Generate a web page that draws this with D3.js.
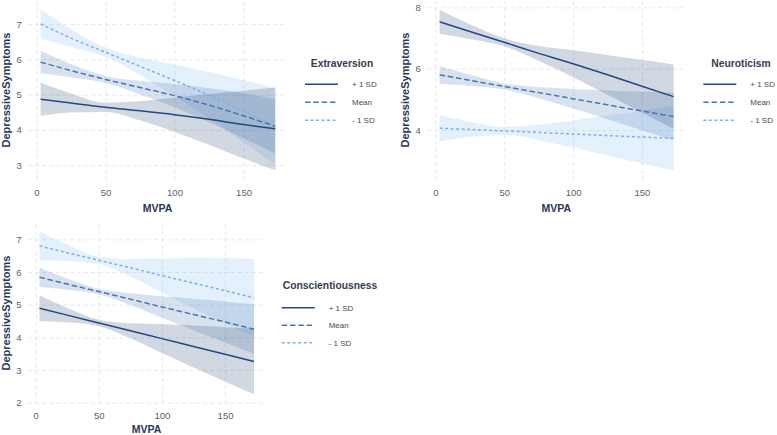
<!DOCTYPE html>
<html><head><meta charset="utf-8">
<script src="https://cdn.jsdelivr.net/npm/d3@7"></script>
<style>body{margin:0;background:#fff} svg{display:block} text{font-family:"Liberation Sans",Arial,sans-serif}</style>
</head><body><svg id="c" width="777" height="435"></svg>
<script>
// ---------- data ----------
const mvpa = [3, 25, 50, 75, 100, 125, 150, 173];
const levels = ["+ 1 SD", "Mean", "- 1 SD"];
const xTicks = [0, 50, 100, 150];
const moderators = ["Extraversion", "Neuroticism", "Conscientiousness"];
const yTicksExt = [3, 4, 5, 6, 7];
const yTicksNeu = [4, 6, 8];
const yTicksCon = [2, 3, 4, 5, 6, 7];
const yDomainExt = [2.58, 7.68];
const yDomainNeu = [2.37, 8.24];
const yDomainCon = [1.99, 7.5];
const xDomain = [-6, 181.5];

// Extraversion
const extPlusFit  = [4.87, 4.76, 4.64, 4.54, 4.43, 4.30, 4.15, 4.03];
const extPlusLo   = [4.40, 4.49, 4.51, 4.27, 3.94, 3.58, 3.19, 2.86];
const extPlusHi   = [5.34, 5.03, 4.77, 4.81, 4.92, 5.02, 5.11, 5.20];
const extMeanFit  = [5.92, 5.68, 5.43, 5.20, 4.97, 4.70, 4.40, 4.10];
const extMeanLo   = [5.60, 5.49, 5.33, 5.01, 4.64, 4.22, 3.76, 3.33];
const extMeanHi   = [6.24, 5.87, 5.53, 5.39, 5.30, 5.18, 5.04, 4.87];
const extMinusFit = [7.00, 6.60, 6.20, 5.80, 5.40, 4.98, 4.53, 4.10];
const extMinusLo  = [6.58, 6.35, 6.07, 5.55, 4.95, 4.32, 3.65, 3.02];
const extMinusHi  = [7.42, 6.85, 6.33, 6.05, 5.85, 5.64, 5.41, 5.18];
// Neuroticism
const neuPlusFit  = [7.53, 7.21, 6.86, 6.50, 6.16, 5.80, 5.43, 5.09];
const neuPlusLo   = [7.14, 6.97, 6.73, 6.26, 5.72, 5.15, 4.57, 4.04];
const neuPlusHi   = [7.92, 7.45, 6.99, 6.74, 6.60, 6.45, 6.29, 6.14];
const neuMeanFit  = [5.80, 5.62, 5.42, 5.22, 5.02, 4.82, 4.62, 4.44];
const neuMeanLo   = [5.51, 5.44, 5.32, 5.04, 4.70, 4.35, 3.99, 3.66];
const neuMeanHi   = [6.09, 5.80, 5.52, 5.40, 5.34, 5.29, 5.25, 5.22];
const neuMinusFit = [4.06, 4.02, 3.97, 3.92, 3.87, 3.82, 3.77, 3.73];
const neuMinusLo  = [3.63, 3.77, 3.84, 3.67, 3.43, 3.17, 2.91, 2.68];
const neuMinusHi  = [4.49, 4.27, 4.10, 4.17, 4.31, 4.47, 4.63, 4.78];
// Conscientiousness
const conPlusFit  = [4.89, 4.68, 4.44, 4.20, 3.96, 3.72, 3.48, 3.26];
const conPlusLo   = [4.49, 4.46, 4.34, 3.97, 3.52, 3.08, 2.65, 2.26];
const conPlusHi   = [5.29, 4.90, 4.54, 4.43, 4.40, 4.36, 4.31, 4.26];
const conMeanFit  = [5.84, 5.63, 5.40, 5.17, 4.93, 4.70, 4.47, 4.25];
const conMeanLo   = [5.54, 5.46, 5.32, 4.99, 4.60, 4.22, 3.84, 3.49];
const conMeanHi   = [6.14, 5.80, 5.48, 5.35, 5.26, 5.18, 5.10, 5.01];
const conMinusFit = [6.80, 6.59, 6.36, 6.13, 5.89, 5.66, 5.43, 5.21];
const conMinusLo  = [6.36, 6.34, 6.25, 5.86, 5.37, 4.88, 4.43, 4.02];
const conMinusHi  = [7.24, 6.84, 6.47, 6.40, 6.41, 6.44, 6.43, 6.40];

// ---------- style ----------
const lineColors = ["#1f4a84", "#4676b6", "#7fb1e3"];
const bandColors = ["#2a4670", "#3d6fb0", "#8fc2f2"];
const bandOpacity = [0.21, 0.2, 0.24];
const dashes = [null, "5.5,2.8", "3,2.5"];

const panels = [
  {mod: moderators[0], yTicks: yTicksExt, yDomain: yDomainExt,
   fit: [extPlusFit, extMeanFit, extMinusFit], lo: [extPlusLo, extMeanLo, extMinusLo], hi: [extPlusHi, extMeanHi, extMinusHi],
   xr: [28.2, 287], yr: [180, 0], ytx: 9.5, titleDy: 31.8, legKx: 305, legTitleCx: 342, legTitleY: 66.5, legY: [84.3, 102.3, 120.3]},
  {mod: moderators[1], yTicks: yTicksNeu, yDomain: yDomainNeu,
   fit: [neuPlusFit, neuMeanFit, neuMinusFit], lo: [neuPlusLo, neuMeanLo, neuMinusLo], hi: [neuPlusHi, neuMeanHi, neuMinusHi],
   xr: [427.2, 685.3], yr: [180, 0], ytx: 409, titleDy: 31.8, legKx: 703.3, legTitleCx: 741, legTitleY: 66.5, legY: [84.3, 102.3, 120.3]},
  {mod: moderators[2], yTicks: yTicksCon, yDomain: yDomainCon,
   fit: [conPlusFit, conMeanFit, conMinusFit], lo: [conPlusLo, conMeanLo, conMinusLo], hi: [conPlusHi, conMeanHi, conMinusHi],
   xr: [28.1, 264.8], yr: [403, 223], ytx: 9.5, titleDy: 29.5, legKx: 281.7, legTitleCx: 330, legTitleY: 288.8, legY: [307.7, 325.2, 342.7]}
];

const svg = d3.select("#c");

panels.forEach(p => {
  const x = d3.scaleLinear().domain(xDomain).range(p.xr);
  const y = d3.scaleLinear().domain(p.yDomain).range(p.yr);
  const g = svg.append("g");
  const w = p.xr[1] - p.xr[0], h = p.yr[0] - p.yr[1];

  // gridlines
  const gx = g.append("g").attr("transform", `translate(0,${p.yr[0]})`)
    .call(d3.axisBottom(x).tickValues(xTicks).tickSize(-h).tickFormat(""));
  const gy = g.append("g").attr("transform", `translate(${p.xr[0]},0)`)
    .call(d3.axisLeft(y).tickValues(p.yTicks).tickSize(-w).tickFormat(""));
  [gx, gy].forEach(a => {
    a.select(".domain").remove();
    a.selectAll("line").attr("stroke", "#dedede").attr("stroke-width", 0.7).attr("stroke-dasharray", "4,3");
  });

  // bands
  const area = d3.area().x((d, i) => x(mvpa[i])).y0(d => y(d[0])).y1(d => y(d[1])).curve(d3.curveMonotoneX);
  [2, 1, 0].forEach(k => {
    const pts = mvpa.map((m, i) => [p.lo[k][i], p.hi[k][i]]);
    g.append("path").attr("d", area(pts)).attr("fill", bandColors[k]).attr("fill-opacity", bandOpacity[k]);
  });

  // lines
  const line = d3.line().x((d, i) => x(mvpa[i])).y(d => y(d)).curve(d3.curveMonotoneX);
  [2, 1, 0].forEach(k => {
    g.append("path").attr("d", line(p.fit[k])).attr("fill", "none")
      .attr("stroke", lineColors[k]).attr("stroke-width", 1.5)
      .attr("stroke-dasharray", dashes[k]);
  });

  // axes labels
  const ax = g.append("g").attr("transform", `translate(0,${p.yr[0]})`)
    .call(d3.axisBottom(x).tickValues(xTicks).tickSize(0).tickPadding(9).tickFormat(d3.format("d")));
  const ay = g.append("g").attr("transform", `translate(${p.xr[0]},0)`)
    .call(d3.axisLeft(y).tickValues(p.yTicks).tickSize(0).tickPadding(6.5).tickFormat(d3.format("d")));
  [ax, ay].forEach(a => {
    a.select(".domain").remove();
    a.attr("font-family", null).attr("font-size", null);
    a.selectAll("text").attr("fill", "#5a5f6b").style("font-size", "9.5px");
  });

  // axis titles
  g.append("text").attr("x", (p.xr[0] + p.xr[1]) / 2).attr("y", p.yr[0] + p.titleDy)
    .attr("text-anchor", "middle").attr("fill", "#2b3656").style("font-size", "10.5px").style("font-weight", "bold")
    .text("MVPA");
  g.append("text").attr("transform", `translate(${p.ytx},${(p.yr[0] + p.yr[1]) / 2}) rotate(-90)`)
    .attr("text-anchor", "middle").attr("fill", "#2b3656").style("font-size", "11px").style("font-weight", "bold")
    .text("DepressiveSymptoms");

  // legend
  const lg = svg.append("g");
  lg.append("text").attr("x", p.legTitleCx).attr("y", p.legTitleY).attr("text-anchor", "middle")
    .attr("fill", "#333c52").style("font-size", "10.3px").style("font-weight", "bold").text(p.mod);
  levels.forEach((lv, k) => {
    lg.append("line").attr("x1", p.legKx).attr("x2", p.legKx + 33).attr("y1", p.legY[k]).attr("y2", p.legY[k])
      .attr("stroke", lineColors[k]).attr("stroke-width", 1.5).attr("stroke-dasharray", dashes[k]);
    lg.append("text").attr("x", p.legKx + 47).attr("y", p.legY[k] + 2.9)
      .attr("fill", "#4a4a4a").style("font-size", "8px").text(lv);
  });
});
</script></body></html>
